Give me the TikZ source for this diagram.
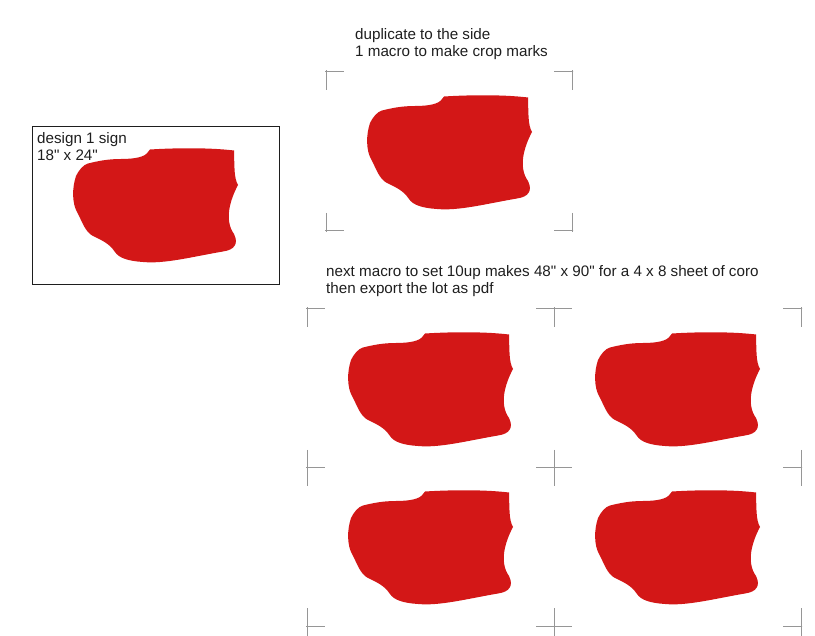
\documentclass[tikz,border=0pt]{standalone}
\usepackage{fontspec}
\newfontfamily\notefont{Liberation Sans}
\usepackage{xcolor}

\definecolor{signred}{RGB}{211,23,23}
\definecolor{markgray}{RGB}{150,150,150}
\definecolor{inkgray}{RGB}{30,30,30}

\tikzset{
	signfill/.style={fill=signred},
	cropline/.style={draw=markgray, line width=1pt},
	note/.style={inner sep=0pt, align=left, text=inkgray, font=\notefont\fontsize{15.2}{17}\selectfont},
}

% one sign, top left corner of its box at (0,0)
\newcommand{\signblob}{%
	\fill[signfill] (77,1.5) .. controls (110,-0.5) and (140,0) .. (161,2.5)
		.. controls (161.5,20) and (161,30) .. (165,37)
		.. controls (157,52) and (151,72) .. (161,86)
		.. controls (166,96) and (161,102) .. (150,103.5)
		.. controls (118,109) and (92,116) .. (70,114)
		.. controls (55,113) and (46,110) .. (42,104)
		.. controls (36,95) and (28,92) .. (20,88)
		.. controls (12,84) and (9,73) .. (4,64)
		.. controls (-1,55) and (-1,40) .. (3,28)
		.. controls (6,22) and (10,17) .. (15,15.5)
		.. controls (25,13) and (35,11) .. (48,11)
		.. controls (62,11) and (72,9) .. (75,4)
		.. controls (76,2.5) and (76.5,2) .. (77,1.5) -- cycle;}

\begin{document}
\begin{tikzpicture}[x=1pt, y=-1pt]
	\useasboundingbox (0,0) rectangle (815,636);

	% design
	\begin{scope}[shift={(32,126)}]
		\draw[line width=0.9pt, draw=inkgray] (0,0) rectangle (247,158);
		\begin{scope}[shift={(41,22)}]
			\signblob
		\end{scope}
	\end{scope}
	\node[note, anchor=base west] (design) at (37,160.5) {design 1 sign\\18" x 24"};

	% duplicate with crop marks
	\node[note, anchor=base west] (dup) at (355,56.5) {duplicate to the side\\1 macro to make crop marks};
	\begin{scope}[shift={(326,72)}]
		\begin{scope}[shift={(41,23)}]
			\signblob
		\end{scope}
		\begin{scope}
			\clip (-1,-1) rectangle (247,160);
			\foreach \x in {0,246}
				\foreach \y in {0,159}
					{\draw[cropline] (\x-18,\y) -- (\x+18,\y) (\x,\y-18) -- (\x,\y+18);}
		\end{scope}
	\end{scope}

	% 10up sheet
	\node[note, anchor=base west] (tenup) at (326,294) {next macro to set 10up makes 48" x 90" for a 4 x 8 sheet of coro\\then export the lot as pdf};
	\begin{scope}[shift={(307,309)}]
		\foreach \x in {0,247}
			\foreach \y in {0,158}
				{\begin{scope}[shift={(\x+41,\y+23)}]
					\signblob
				\end{scope}}
		\begin{scope}
			\clip (-1,-1) rectangle (495,327);
			\foreach \x in {0,247,494}
				\foreach \y in {0,159,317}
					{\draw[cropline] (\x-18,\y) -- (\x+18,\y) (\x,\y-18) -- (\x,\y+18);}
		\end{scope}
	\end{scope}
\end{tikzpicture}
\end{document}
